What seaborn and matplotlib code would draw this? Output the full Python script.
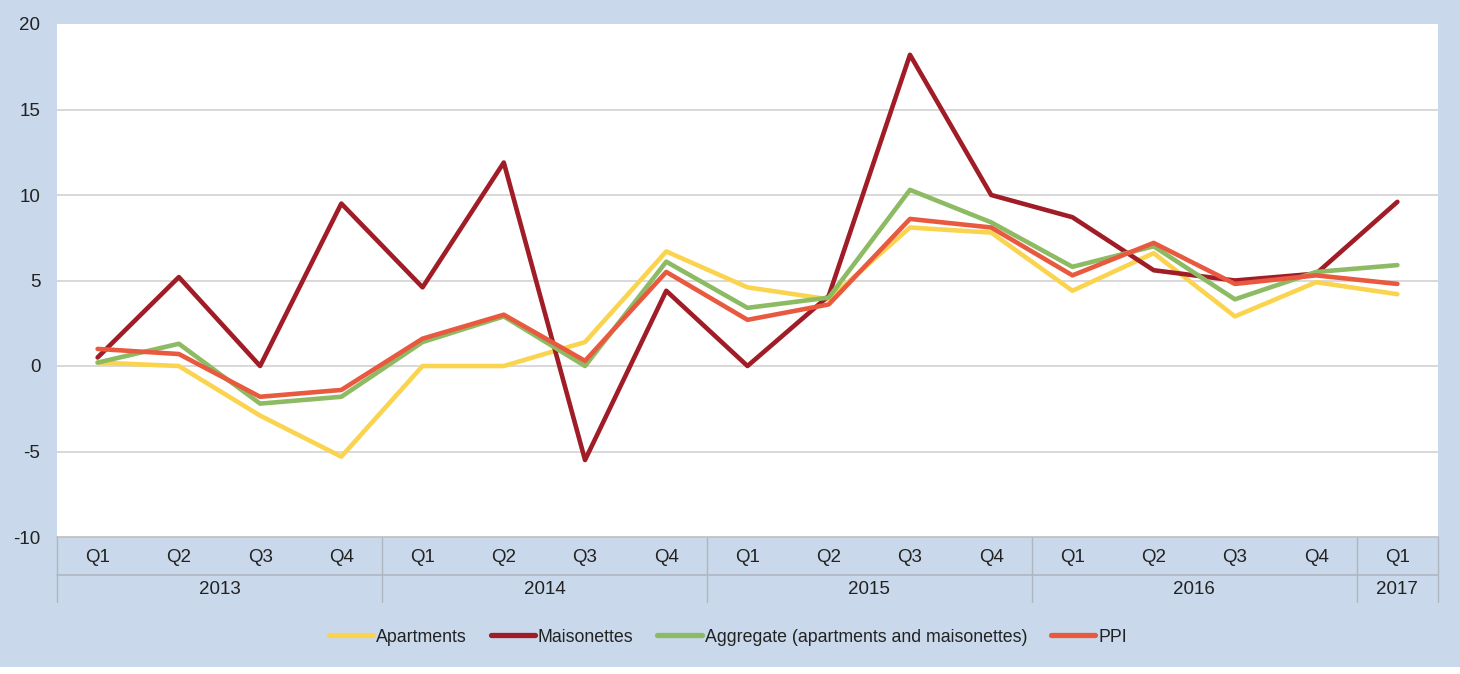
import matplotlib
matplotlib.use("Agg")
import matplotlib.pyplot as plt
import seaborn as sns
import pandas as pd
import numpy as np
from matplotlib.lines import Line2D
from matplotlib.patches import Rectangle

quarters = ["Q1", "Q2", "Q3", "Q4", "Q1", "Q2", "Q3", "Q4", "Q1", "Q2", "Q3", "Q4",
            "Q1", "Q2", "Q3", "Q4", "Q1"]
years = ["2013", "2014", "2015", "2016", "2017"]
year_sizes = [4, 4, 4, 4, 1]

apartments = [0.2, 0.0, -2.9, -5.3, 0.0, 0.0, 1.4, 6.7, 4.6, 3.9, 8.1, 7.8, 4.4, 6.6, 2.9, 4.9, 4.2]
maisonettes = [0.5, 5.2, 0.0, 9.5, 4.6, 11.9, -5.5, 4.4, 0.0, 4.1, 18.2, 10.0, 8.7, 5.6, 5.0, 5.4, 9.6]
aggregate = [0.2, 1.3, -2.2, -1.8, 1.4, 2.9, 0.0, 6.1, 3.4, 4.0, 10.3, 8.4, 5.8, 7.0, 3.9, 5.5, 5.9]
ppi = [1.0, 0.7, -1.8, -1.4, 1.6, 3.0, 0.3, 5.5, 2.7, 3.6, 8.6, 8.1, 5.3, 7.2, 4.8, 5.3, 4.8]

series_names = ["Apartments", "Maisonettes", "Aggregate (apartments and maisonettes)", "PPI"]
series_values = [apartments, maisonettes, aggregate, ppi]
colors = ["#FBD44F", "#A01C26", "#8DBB63", "#E8593F"]

rows = []
for name, vals in zip(series_names, series_values):
    for i, v in enumerate(vals):
        rows.append({"idx": i, "value": v, "series": name})
df = pd.DataFrame(rows)

BG = "#C9D8EA"
FS = 13.5
sns.set_theme(style="white")
plt.rcParams['font.family'] = ['Liberation Sans', 'DejaVu Sans']

W, H = 1460, 674
fig = plt.figure(figsize=(W / 100, H / 100), dpi=100, facecolor=BG)
fig.patches.append(Rectangle((0, 0), 1, 7 / H, transform=fig.transFigure,
                             facecolor="white", edgecolor="none", zorder=-1))
left, right, top, bottom = 57, 1438, 24, 537
ax = fig.add_axes([left / W, 1 - bottom / H, (right - left) / W, (bottom - top) / H])
ax.set_facecolor("white")

sns.lineplot(data=df, x="idx", y="value", hue="series", hue_order=series_names,
             palette=colors, linewidth=3.3, ax=ax, legend=False, sort=False)

ax.set_xlim(-0.5, len(quarters) - 0.5)
ax.set_ylim(-10, 20)
ax.set_yticks([-10, -5, 0, 5, 10, 15, 20])
ax.set_yticklabels(["-10", "-5", "0", "5", "10", "15", "20"], fontsize=FS, color="#222222")
ax.tick_params(axis="y", length=0, pad=12)
ax.set_xticks([])
ax.set_xlabel("")
ax.set_ylabel("")
for y in [-5, 0, 5, 10, 15]:
    ax.axhline(y, color="#D2D2D2", linewidth=1.2, zorder=0)
for s in ["top", "right", "left"]:
    ax.spines[s].set_visible(False)
ax.spines["bottom"].set_color("#BFBFBF")
ax.spines["bottom"].set_linewidth(1.2)

trans = ax.get_xaxis_transform()
ph = bottom - top
def yax(px):
    return (bottom - px) / ph

sep_color = "#AEB6C0"
q_y = yax(557)
yr_y = yax(590)
for i, q in enumerate(quarters):
    ax.text(i, q_y, q, transform=trans, ha="center", va="center", fontsize=FS, color="#222222")
ax.add_line(Line2D([-0.5, len(quarters) - 0.5], [yax(575), yax(575)], transform=trans,
                   color=sep_color, linewidth=1.2, clip_on=False))
start = 0
bounds = [0]
for yr, n in zip(years, year_sizes):
    ax.text(start + (n - 1) / 2, yr_y, yr, transform=trans, ha="center", va="center",
            fontsize=FS, color="#222222")
    start += n
    bounds.append(start)
for b in bounds:
    ax.add_line(Line2D([b - 0.5, b - 0.5], [yax(537), yax(602)], transform=trans,
                       color=sep_color, linewidth=1.0, clip_on=False))

handles = [Line2D([0], [0], color=c, linewidth=3.8) for c in colors]
fig.legend(handles, series_names, loc="center", bbox_to_anchor=(0.4985, 1 - 637 / H),
           ncol=4, frameon=False, fontsize=12.8, handlelength=2.5, handletextpad=0.15,
           columnspacing=1.35, labelcolor="#222222")

fig.savefig("out.png", dpi=100, facecolor=BG)
